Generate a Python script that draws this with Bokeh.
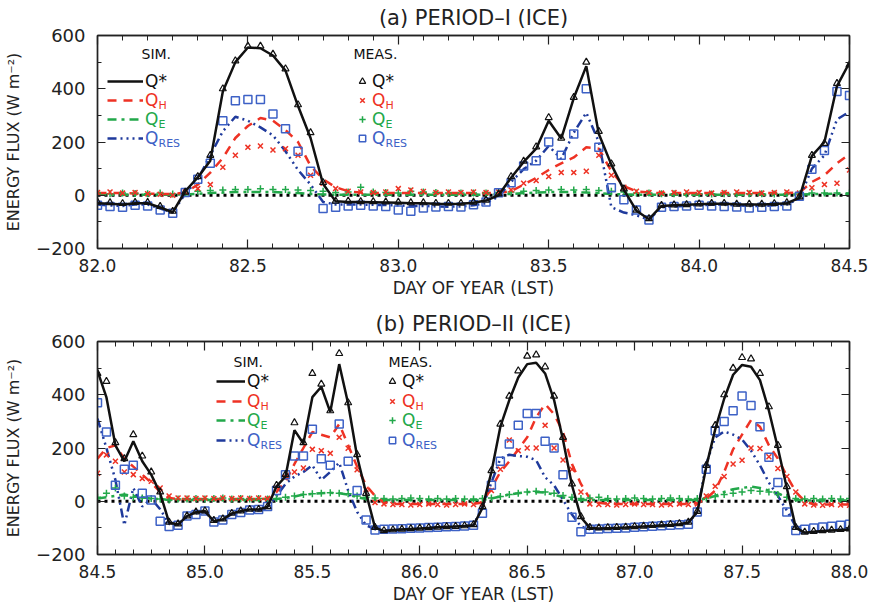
from bokeh.plotting import figure
from bokeh.models import (Range1d, FixedTicker, LinearAxis, PrintfTickFormatter,
                          Span, Label, Legend, LegendItem, CustomLabelingPolicy)
from bokeh.layouts import column
from bokeh.embed import file_html
from bokeh.resources import INLINE

# ---------------- data (hourly values, W m-2) ----------------
TIME_A = [82.0 + h / 24 for h in range(61)]
TIME_B = [84.5 + h / 24 for h in range(85)]
XMAJOR_A = [82.0, 82.5, 83.0, 83.5, 84.0, 84.5]
XMAJOR_B = [84.5, 85.0, 85.5, 86.0, 86.5, 87.0, 87.5, 88.0]
YMAJOR = [-200, 0, 200, 400, 600]
YMINOR = [-200, -100, 0, 100, 200, 300, 400, 500, 600]

QSTAR_SIM_A = [-30, -32, -35, -30, -30, -46, -64, 15, 67, 130,
               390, 500, 555, 552, 525, 468, 335, 215, 42, -23,
               -25, -25, -26, -27, -28, -30, -30, -32, -33, -32,
               -28, -20, 0, 66, 125, 175, 280, 213, 365, 485,
               230, 115, 20, -58, -90, -40, -38, -36, -34, -32,
               -32, -34, -35, -35, -33, -30, -10, 148, 200, 410,
               498]
QSTAR_MEAS_A = [-26, -28, -31, -27, -27, -42, -60, 12, 70, 150,
                400, 505, 560, 560, 530, 475, 340, 235, 48, -22,
                -22, -24, -24, -25, -26, -28, -28, -30, -30, -30,
                -26, -18, 5, 70, 128, 182, 292, 215, 368, 500,
                240, 118, 24, -56, -88, -38, -36, -35, -32, -30,
                -30, -33, -33, -33, -31, -28, -6, 150, 195, 420,
                490]
QH_SIM_A = [8, 8, 8, 7, 6, 5, 5, 10, 40, 85,
            140, 215, 260, 290, 280, 245, 200, 110, 60, 30,
            15, 10, 8, 8, 8, 8, 8, 8, 8, 8,
            8, 8, 10, 15, 40, 65, 95, 120, 142, 180,
            175, 90, 34, 15, 10, 8, 8, 8, 8, 8,
            8, 8, 8, 8, 8, 8, 10, 50, 75, 120,
            155]
QH_MEAS_A = [10, 12, 8, 10, 6, 4, 0, 12, 25, 40,
             105, 150, 180, 185, 170, 175, 150, 75, 45, 25,
             15, 12, 10, 12, 25, 20, 14, 10, 12, 10,
             12, 10, 12, 20, 45, 55, 70, 85, 85, 90,
             150, 75, 30, 15, 10, 8, 10, 12, 10, 8,
             10, 12, 10, 8, 10, 12, 8, 28, 40, 45,
             95]
QE_SIM_A = [2, 2, 2, 2, 2, 2, 2, 3, 5, 8,
            10, 12, 12, 12, 12, 10, 8, 5, 3, 2,
            2, 2, 2, 2, 2, 2, 2, 2, 2, 2,
            2, 2, 3, 5, 8, 10, 12, 12, 12, 10,
            8, 5, 3, 2, 2, 2, 2, 2, 2, 2,
            2, 2, 2, 2, 2, 2, 3, 4, 5, 6,
            6]
QE_MEAS_A = [8, 6, 8, 7, 6, 8, 5, 10, 15, 18,
             20, 22, 22, 24, 22, 22, 20, 18, 15, 10,
             12, 30, 12, 10, 8, 15, 12, 10, 8, 8,
             8, 8, 10, 12, 15, 18, 20, 22, 20, 22,
             18, 15, 12, 8, 8, 6, 6, 5, 6, 5,
             6, 5, 6, 6, 5, 6, 5, 8, 8, 8,
             8]
QRES_SIM_A = [-35, -38, -40, -35, -35, -50, -65, 5, 60, 150,
              240, 295, 280, 255, 225, 165, 95, 40, -25, -35,
              -35, -35, -36, -37, -38, -40, -40, -42, -43, -42,
              -38, -30, -5, 50, 98, 130, 185, 136, 235, 310,
              200, -45, -65, -75, -92, -45, -42, -40, -38, -36,
              -36, -38, -40, -40, -38, -35, -12, 100, 150, 285,
              314]
QRES_MEAS_A = [-38, -42, -45, -38, -40, -55, -68, 10, 60, 120,
               280, 355, 360, 360, 305, 250, 165, 90, -50, -45,
               -40, -38, -40, -42, -55, -60, -48, -44, -42, -44,
               -36, -25, 9, 47, 110, 130, 200, 150, 230, 400,
               180, 28, -17, -55, -93, -45, -42, -40, -38, -40,
               -42, -44, -48, -45, -42, -40, -4, 98, 168, 390,
               375]

QSTAR_SIM_B = [490, 390, 210, 150, 225, 150, 100, 30, -80, -87,
               -56, -41, -37, -75, -68, -46, -37, -31, -31, -21,
               56, 93, 267, 217, 391, 430, 335, 515, 366, 168,
               31, -99, -112, -108, -106, -104, -102, -100, -98, -96,
               -95, -93, -90, -25, 110, 280, 380, 465, 515, 520,
               480, 380, 230, 60, -60, -100, -102, -101, -100, -99,
               -97, -95, -93, -91, -89, -86, -80, -40, 130, 270,
               385, 475, 512, 505, 455, 340, 200, 50, -100, -118,
               -115, -112, -110, -108, -106]
QSTAR_MEAS_B = [480, 450, 220, 160, 250, 170, 110, 35, -78, -85,
                -55, -40, -36, -72, -66, -45, -36, -30, -30, -20,
                60, 100, 295, 220, 480, 440, 340, 555, 370, 175,
                30, -98, -110, -107, -105, -103, -101, -99, -97, -95,
                -94, -92, -88, -20, 115, 290, 395, 490, 545, 550,
                505, 395, 240, 65, -58, -98, -100, -99, -98, -97,
                -95, -93, -91, -89, -87, -84, -78, -38, 135, 285,
                400, 500, 540, 535, 480, 355, 210, 55, -98, -116,
                -113, -110, -108, -106, -104]
QH_SIM_B = [160, 200, 210, 160, 130, 100, 70, 35, 12, 8,
            8, 8, 8, 8, 8, 8, 8, 8, 8, 10,
            35, 75, 140, 200, 260, 250, 240, 290, 210, 130,
            60, 20, -5, -10, -10, -10, -10, -10, -10, -10,
            -10, -10, -10, -5, 50, 110, 150, 195, 240, 315,
            365, 327, 260, 140, 65, 10, -6, -10, -10, -10,
            -10, -10, -10, -10, -10, -10, -10, -8, 10, 40,
            110, 195, 250, 305, 280, 210, 160, 95, 35, 0,
            -12, -12, -12, -12, -12]
QH_MEAS_B = [105, 174, 150, 110, 100, 85, 75, 50, 20, 12,
             12, 10, 12, 10, 12, 10, 12, 10, 12, 10,
             50, 90, 110, 125, 195, 190, 180, 240, 199, 118,
             45, -5, -10, -12, -12, -14, -12, -10, -12, -14,
             -12, -10, -12, -10, 40, 120, 230, 190, 200, 200,
             285, 200, 155, 120, 35, -10, -12, -12, -14, -12,
             -10, -12, -12, -14, -12, -10, -12, -10, 20, 56,
             93, 140, 154, 200, 198, 167, 123, 93, 35, -10,
             -14, -15, -12, -14, -15]
QE_SIM_B = [10, 15, 20, 25, 20, 15, 10, 8, 5, 5,
            5, 5, 5, 5, 5, 5, 5, 5, 5, 5,
            8, 12, 18, 25, 28, 30, 32, 30, 25, 15,
            8, 5, 5, 5, 5, 5, 5, 5, 5, 5,
            5, 5, 5, 5, 10, 18, 25, 30, 35, 35,
            32, 25, 15, 8, 5, 5, 5, 5, 5, 5,
            5, 5, 5, 5, 5, 5, 5, 5, 10, 20,
            35, 45, 50, 55, 50, 40, 30, 15, 5, 3,
            3, 3, 3, 3, 3]
QE_MEAS_B = [15, 30, 50, 20, 15, 12, 10, 8, 5, 8,
             8, 10, 8, 10, 12, 8, 10, 8, 10, 8,
             10, 15, 20, 25, 28, 30, 32, 30, 28, 20,
             15, 12, 10, 8, 10, 12, 10, 8, 10, 8,
             10, 8, 8, 10, 12, 18, 25, 30, 35, 38,
             35, 30, 22, 15, 10, 12, 15, 10, 8, 10,
             12, 10, 8, 10, 12, 10, 8, 10, 12, 18,
             25, 30, 35, 40, 38, 35, 25, 15, 10, 8,
             10, 8, 10, 8, 10]
QRES_SIM_B = [310, 200, 80, -90, 50, -20, 10, -30, -85, -88,
              -60, -45, -40, -75, -70, -48, -40, -35, -35, -25,
              20, 65, 93, 110, 135, 80, 110, 145, 40, -40,
              -90, -105, -110, -108, -106, -104, -102, -100, -98, -96,
              -95, -93, -90, -20, 70, 160, 175, 170, 167, 154,
              90, 60, 5, -50, -95, -105, -104, -103, -102, -100,
              -98, -96, -94, -92, -90, -88, -82, -40, 140, 240,
              262, 250, 232, 190, 135, 70, 20, -35, -95, -118,
              -115, -112, -110, -108, -106]
QRES_MEAS_B = [370, 260, 60, 120, 135, 30, 5, -75, -95, -90,
               -55, -50, -37, -78, -70, -50, -42, -33, -31, -20,
               40, 100, 170, 170, 270, 160, 135, 290, 150, 40,
               -70, -108, -105, -104, -103, -101, -100, -99, -98, -96,
               -95, -93, -90, -45, 60, 150, 215, 285, 330, 330,
               225, 200, 100, -60, -115, -105, -104, -102, -101, -100,
               -98, -96, -94, -92, -90, -88, -86, -40, 120, 265,
               300, 340, 395, 360, 280, 165, 70, -40, -110, -105,
               -100, -97, -94, -90, -86]

# ---------------- styling ----------------
FONT = "DejaVu Sans"
BLACK = "#111111"
RED = "#ee3224"
GREEN = "#22a84a"
BLUE_D = "#1f3a9c"
BLUE_M = "#3d61c6"
FRAME_LEFT = 97
FRAME_H = 213


def style_axis(ax, ticker, show_labels, is_x):
    ax.ticker = ticker
    ax.axis_line_color = "#222222"
    ax.axis_line_width = 1.4
    ax.major_tick_line_color = "#222222"
    ax.minor_tick_line_color = "#222222"
    ax.major_tick_line_width = 1.2
    ax.minor_tick_line_width = 1.0
    ax.major_tick_out = 0
    ax.minor_tick_out = 0
    ax.major_tick_in = 9 if is_x else 8
    ax.minor_tick_in = 5 if is_x else 4
    ax.major_label_text_font = FONT
    ax.major_label_text_color = "#222222"
    if show_labels:
        ax.major_label_text_font_size = "17px" if is_x else "18px"
        ax.major_label_standoff = 10 if is_x else 12
    else:
        # tick marks only (mirror axis): labels are filtered out entirely
        ax.major_label_text_font_size = "1px"
        ax.major_label_standoff = 0
        ax.major_label_policy = CustomLabelingPolicy(code="return []")


def make_panel(title, t, x0, x1, xmajor, qs, qsm, qh, qhm, qe, qem, qr, qrm,
               fig_h, mb_top, mb_bottom, fig_top, leg):
    p = figure(width=869, height=fig_h, x_range=Range1d(x0, x1),
               y_range=Range1d(-200, 600), output_backend="svg",
               toolbar_location=None, min_border_left=FRAME_LEFT,
               min_border_right=20, min_border_top=mb_top,
               min_border_bottom=mb_bottom, title=title)
    p.title.align = "center"
    p.title.text_font = FONT
    p.title.text_font_size = "21px"
    p.title.text_font_style = "normal"
    p.title.text_color = "#222222"
    p.title.standoff = 3
    p.grid.visible = False
    p.outline_line_color = "#222222"
    p.outline_line_width = 1.4
    p.background_fill_color = "white"
    p.border_fill_color = "white"

    step = 1.0 / 12
    nmin = int(round((x1 - x0) / step))
    xminor = [x0 + i * step for i in range(nmin + 1)]
    xt = FixedTicker(ticks=xmajor, minor_ticks=xminor)
    yt = FixedTicker(ticks=YMAJOR, minor_ticks=YMINOR)

    xa = p.xaxis[0]
    style_axis(xa, xt, True, True)
    xa.formatter = PrintfTickFormatter(format="%.1f")
    xa.axis_label = "DAY OF YEAR (LST)"
    xa.axis_label_text_font = FONT
    xa.axis_label_text_font_style = "normal"
    xa.axis_label_text_font_size = "17px"
    xa.axis_label_text_color = "#222222"
    xa.axis_label_standoff = 3

    ya = p.yaxis[0]
    style_axis(ya, yt, True, False)
    ya.axis_label = "ENERGY FLUX (W m\u207b\u00b2)"
    ya.axis_label_text_font = FONT
    ya.axis_label_text_font_style = "normal"
    ya.axis_label_text_font_size = "16px"
    ya.axis_label_text_color = "#222222"
    ya.axis_label_standoff = 10

    top = LinearAxis()
    style_axis(top, xt, False, True)
    p.add_layout(top, "above")
    right = LinearAxis()
    style_axis(right, yt, False, False)
    p.add_layout(right, "right")

    p.add_layout(Span(location=0, dimension="width", line_color="black",
                      line_dash="3 4", line_width=3, level="underlay"))

    r_qe = p.line(t, qe, line_color=GREEN, line_width=2.5, line_dash="9 5 3 5")
    r_qh = p.line(t, qh, line_color=RED, line_width=2.5, line_dash="9 7")
    r_qr = p.line(t, qr, line_color=BLUE_D, line_width=2.5,
                  line_dash="9 4 2 4 2 4 2 4")
    m_qe = p.scatter(t, qem, marker="cross", size=7, line_color=GREEN,
                     line_width=1.5)
    m_qh = p.scatter(t, qhm, marker="x", size=7, line_color=RED,
                     line_width=1.5)
    m_qr = p.scatter(t, qrm, marker="square", size=8, fill_color=None,
                     line_color=BLUE_M, line_width=1.5)
    r_qs = p.line(t, qs, line_color=BLACK, line_width=2.5)
    m_qs = p.scatter(t, qsm, marker="triangle", size=7, fill_color=None,
                     line_color=BLACK, line_width=1.2)

    fb = mb_top + FRAME_H  # frame bottom in figure pixels

    def put(X, Y, text, color="#111111", size=17, align="left"):
        p.add_layout(Label(x=X - FRAME_LEFT, y=fb - (Y - fig_top),
                           x_units="screen", y_units="screen", text=text,
                           text_color=color, text_font=FONT,
                           text_font_size=f"{size}px", text_align=align,
                           text_baseline="middle"))

    put(leg["sim_hx"], leg["head_y"], "SIM.", size=14)
    put(leg["meas_hx"], leg["head_y"], "MEAS.", size=14)

    bh = 22
    rows = leg["rows"]
    entries = [("Q*", "", BLACK, r_qs, m_qs),
               ("Q", "H", RED, r_qh, m_qh),
               ("Q", "E", GREEN, r_qe, m_qe),
               ("Q", "RES", BLUE_M, r_qr, m_qr)]
    for (main, sub, col, rl, rm), yc in zip(entries, rows):
        vy = fb - (yc + bh / 2 - fig_top)
        for rend, x0g, gw in ((rl, leg["sim_x0"], leg["sim_w"]),
                              (rm, leg["meas_x0"], 16)):
            lg = Legend(items=[LegendItem(label=main, renderers=[rend])],
                        location=(x0g - FRAME_LEFT, vy), orientation="vertical",
                        padding=0, margin=0, spacing=0, glyph_width=gw,
                        glyph_height=bh, label_height=bh, label_width=10,
                        label_standoff=2, border_line_alpha=0,
                        background_fill_alpha=0, label_text_font=FONT,
                        label_text_font_size="17px", label_text_color=col)
            p.add_layout(lg)
            if sub:
                put(x0g + gw + 2 + 13, yc + 5, sub, col, 11)
    return p


pa = make_panel("(a) PERIOD\u2013I (ICE)", TIME_A, 82.0, 84.5, XMAJOR_A,
                QSTAR_SIM_A, QSTAR_MEAS_A, QH_SIM_A, QH_MEAS_A, QE_SIM_A,
                QE_MEAS_A, QRES_SIM_A, QRES_MEAS_A, 306, 35, 58, 0,
                dict(rows=[81, 100, 119, 138],
                     sim_x0=107, sim_w=36, meas_x0=354, sim_hx=141,
                     meas_hx=353, head_y=53))
pb = make_panel("(b) PERIOD\u2013II (ICE)", TIME_B, 84.5, 88.0, XMAJOR_B,
                QSTAR_SIM_B, QSTAR_MEAS_B, QH_SIM_B, QH_MEAS_B, QE_SIM_B,
                QE_MEAS_B, QRES_SIM_B, QRES_MEAS_B, 305, 35, 57, 306,
                dict(rows=[381, 401, 420, 440],
                     sim_x0=216, sim_w=29, meas_x0=384, sim_hx=233,
                     meas_hx=388, head_y=361))

layout = column(pa, pb, spacing=0)
open("out.html", "w").write(file_html(layout, INLINE))
